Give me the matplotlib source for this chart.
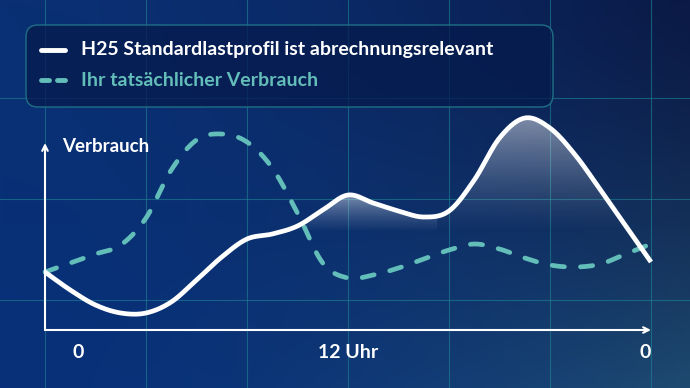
import numpy as np
import matplotlib.pyplot as plt
from matplotlib.patches import FancyBboxPatch
from matplotlib.path import Path

# Stunden und Verbrauchswerte
hours = list(range(25))
h25_profile = [29, 20, 12.5, 8.5, 8.5, 14, 25, 36.5, 45.5, 48, 52, 60, 67.5,
               63.5, 59.5, 56.5, 59.5, 75, 96, 106, 101, 87.5, 70, 52, 34]
actual_usage = [29, 33.5, 38, 42.5, 56, 80, 95, 98, 94, 81, 58.5, 33.5, 26,
                27.5, 31, 35.5, 40, 43, 40.5, 36, 32.5, 31.5, 33, 38, 43]
tick_hours = [0, 12, 24]
tick_labels = ["0", "12 Uhr", "0"]
legend_labels = ["H25 Standardlastprofil ist abrechnungsrelevant",
                 "Ihr tatsächlicher Verbrauch"]

TEAL = "#63bdb9"
FONT = "Lato"


def smooth(x, y, n=24):
    # Catmull-Rom Kurve durch die Punkte (nur zum Zeichnen)
    pts = np.column_stack([x, y]).astype(float)
    p = np.vstack([pts[0], pts, pts[-1]])
    out = []
    t = np.linspace(0, 1, n, endpoint=False)[:, None]
    for i in range(len(pts) - 1):
        p0, p1, p2, p3 = p[i], p[i + 1], p[i + 2], p[i + 3]
        seg = 0.5 * (2 * p1 + (-p0 + p2) * t
                     + (2 * p0 - 5 * p1 + 4 * p2 - p3) * t ** 2
                     + (-p0 + 3 * p1 - 3 * p2 + p3) * t ** 3)
        out.append(seg)
    out.append(pts[-1:])
    s = np.vstack(out)
    return s[:, 0], s[:, 1]


fig = plt.figure(figsize=(6.9, 3.88), dpi=100)
ax = fig.add_axes([0, 0, 1, 1])
XLIM = (-45 / 25.25, 645 / 25.25)
YLIM = (-29, 165)
ax.axis("off")

# Hintergrund-Verlauf
c_tl = np.array([10, 48, 116]) / 255
c_tr = np.array([11, 26, 70]) / 255
c_bl = np.array([7, 48, 122]) / 255
c_br = np.array([30, 74, 112]) / 255
gx = np.linspace(0, 1, 200)[None, :, None]
gy = np.linspace(0, 1, 120)[:, None, None]
gx2 = gx ** 1.6
gy2 = gy ** 1.4
bg = (c_tl * (1 - gx2) * (1 - gy2) + c_tr * gx2 * (1 - gy2)
      + c_bl * (1 - gx2) * gy2 + c_br * gx2 * gy2)
ax.imshow(bg, extent=[XLIM[0], XLIM[1], YLIM[0], YLIM[1]], aspect="auto",
          zorder=0, origin="upper")

# Raster
for h in range(0, 25, 4):
    ax.axvline(h, color="#1f8595", lw=0.8, alpha=0.6, zorder=1)
for v in [15, 65.5, 116]:
    ax.axhline(v, color="#1f8595", lw=0.8, alpha=0.6, zorder=1)

# Kurven
xs, ys = smooth(hours, h25_profile)
xa, ya = smooth(hours, actual_usage)

# Schimmer unter den Spitzen
poly = ax.fill_between(xs, ys, 50, where=ys > 50, facecolor="none",
                       edgecolor="none", interpolate=True)
clip = Path.make_compound_path(*poly.get_paths())
for x0, x1, top in [(9, 15.5, 68), (15.5, 24, 106)]:
    grad = np.zeros((100, 2, 4))
    grad[..., :3] = 1.0
    grad[..., 3] = (np.linspace(0.55, 0.0, 100) ** 1.3)[:, None]
    im = ax.imshow(grad, extent=[x0, x1, 48, top], origin="upper",
                   aspect="auto", zorder=2)
    im.set_clip_path(clip, ax.transData)

ax.plot(xa, ya, color=TEAL, lw=3.4, dashes=(2.6, 3.4),
        dash_capstyle="round", zorder=3)
ax.plot(xs, ys, color="white", lw=3.4, solid_capstyle="butt", zorder=4)
ax.set_xlim(*XLIM)
ax.set_ylim(*YLIM)

# Achsen mit Pfeilen
ax.annotate("", xy=(24, 0), xytext=(0, 0),
            arrowprops=dict(arrowstyle="->", color="white", lw=1.5,
                            mutation_scale=10, shrinkA=0, shrinkB=0), zorder=5)
ax.annotate("", xy=(0, 93.5), xytext=(0, 0),
            arrowprops=dict(arrowstyle="->", color="white", lw=1.5,
                            mutation_scale=10, shrinkA=0, shrinkB=0), zorder=5)
ax.text(0.67, 92, "Verbrauch", color="white", fontsize=13.5, family=FONT,
        fontweight="bold", va="center", ha="left", zorder=5)
for h, lab in zip(tick_hours, tick_labels):
    ha = "center"
    xpos = h + (33 / 25.25 if h == 0 else 0)
    if h == 24:
        ha = "right"
        xpos = h
    ax.text(xpos, -11.5, lab, color="white", fontsize=14, family=FONT,
            fontweight="bold", ha=ha, va="center", zorder=5)

# Legende
lg = fig.add_axes([0, 0, 1, 1], zorder=10)
lg.set_xlim(0, 690)
lg.set_ylim(388, 0)
lg.axis("off")
lg.patch.set_alpha(0)
lg.add_patch(FancyBboxPatch((26, 25), 527, 82,
                            boxstyle="round,pad=0,rounding_size=12",
                            facecolor="#051a4c", alpha=0.75, edgecolor="none"))
lg.add_patch(FancyBboxPatch((26, 25), 527, 82,
                            boxstyle="round,pad=0,rounding_size=12",
                            facecolor="none", edgecolor="#1f6f86", lw=1))
lg.plot([41, 65], [50, 50], color="white", lw=3.5, solid_capstyle="round")
lg.plot([41, 49], [80, 80], color=TEAL, lw=3.5, solid_capstyle="round")
lg.plot([57, 65], [80, 80], color=TEAL, lw=3.5, solid_capstyle="round")
lg.text(81, 50, legend_labels[0], color="white", fontsize=14, family=FONT,
        fontweight="bold", va="center", ha="left")
lg.text(81, 80, legend_labels[1], color=TEAL, fontsize=14, family=FONT,
        fontweight="bold", va="center", ha="left")

fig.savefig("out.png", dpi=100)
